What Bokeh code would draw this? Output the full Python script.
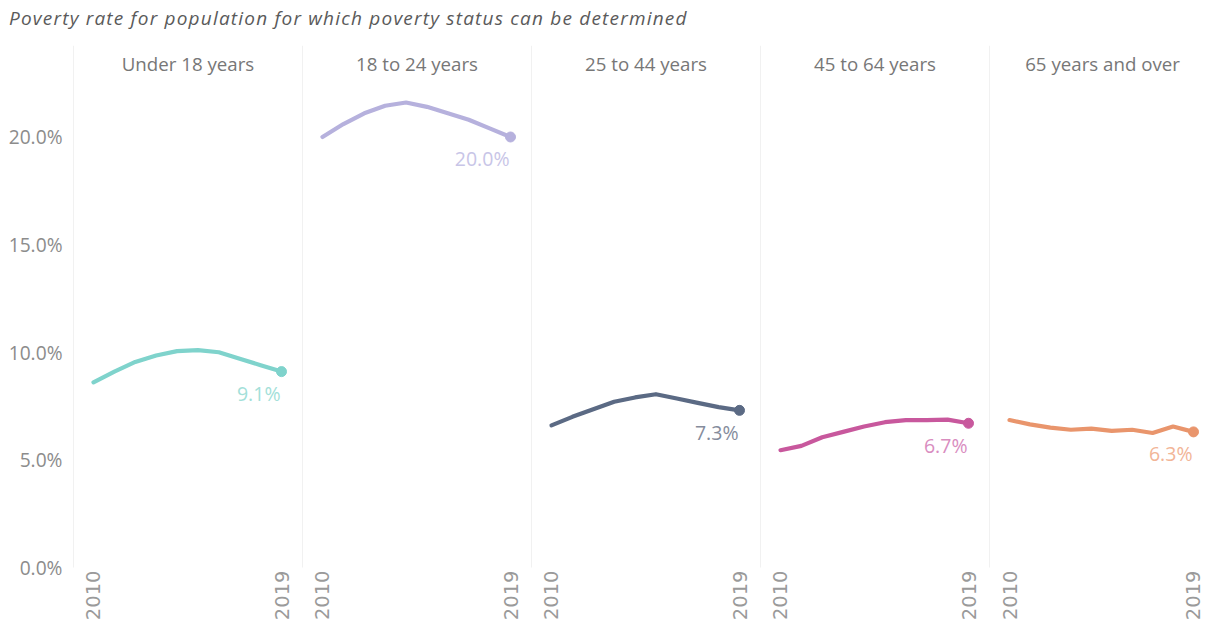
from bokeh.plotting import figure
from bokeh.models import (Range1d, FixedTicker, Label, Div, PrintfTickFormatter,
                          ColumnDataSource, Arrow)
from bokeh.layouts import row, column
from bokeh.core.properties import value
from bokeh.embed import file_html
from bokeh.resources import INLINE
import math

# ---------------- data ----------------
title_text = "Poverty rate for population for which poverty status can be determined"
years = [2010, 2011, 2012, 2013, 2014, 2015, 2016, 2017, 2018, 2019]
groups = ["Under 18 years", "18 to 24 years", "25 to 44 years", "45 to 64 years", "65 years and over"]
under_18 = [8.6, 9.1, 9.55, 9.85, 10.05, 10.1, 10.0, 9.7, 9.4, 9.1]
age_18_24 = [20.0, 20.6, 21.1, 21.45, 21.6, 21.4, 21.1, 20.8, 20.4, 20.0]
age_25_44 = [6.6, 7.0, 7.35, 7.7, 7.9, 8.05, 7.85, 7.65, 7.45, 7.3]
age_45_64 = [5.45, 5.65, 6.05, 6.3, 6.55, 6.75, 6.85, 6.85, 6.87, 6.7]
age_65_over = [6.85, 6.65, 6.5, 6.4, 6.45, 6.35, 6.4, 6.25, 6.55, 6.3]
end_labels = ["9.1%", "20.0%", "7.3%", "6.7%", "6.3%"]
y_ticks = [0, 5, 10, 15, 20]
x_ticks = [2010, 2019]

series = [under_18, age_18_24, age_25_44, age_45_64, age_65_over]
line_colors = ["#7fd3cc", "#b6b1dd", "#5b6a84", "#c8589d", "#e9956c"]
label_colors = ["#a3dfd9", "#c8c5e7", "#858c9c", "#d98dbf", "#f2b597"]

FONT = "Open Sans"
DIVIDER = "#e3e3e3"

# ---------------- layout ----------------
frame_widths = [229, 229, 229, 229, 217]
x_ranges = [(2009.043, 2020.005)] * 4 + [(2009.021, 2019.636)]
header_x = [None, None, None, None, 2014.55]
Y_TOP = 24.25

figs = []
for i, (g, vals) in enumerate(zip(groups, series)):
    first = i == 0
    p = figure(frame_width=frame_widths[i], frame_height=522,
               x_range=Range1d(*x_ranges[i]), y_range=Range1d(0, Y_TOP),
               output_backend="svg", toolbar_location=None,
               min_border_left=73 if first else 0, min_border_right=0,
               min_border_top=9, min_border_bottom=0,
               y_axis_location="left" if first else None)
    p.outline_line_color = None
    p.background_fill_color = "white"
    p.border_fill_color = "white"
    p.xgrid.visible = False
    p.ygrid.visible = False

    # x axis (years)
    xa = p.xaxis[0]
    xa.ticker = FixedTicker(ticks=x_ticks)
    xa.axis_line_color = None
    xa.major_tick_line_color = None
    xa.minor_tick_line_color = None
    xa.major_tick_out = 0
    xa.major_tick_in = 0
    xa.major_label_orientation = math.pi / 2
    xa.major_label_standoff = 3
    xa.major_label_text_font = "DejaVu Sans"
    xa.major_label_text_font_size = "19.5px"
    xa.major_label_text_color = "#9a9a9a"

    if first:
        ya = p.yaxis[0]
        ya.ticker = FixedTicker(ticks=y_ticks)
        ya.formatter = PrintfTickFormatter(format="%.1f%%")
        ya.axis_line_color = None
        ya.major_tick_line_color = None
        ya.minor_tick_line_color = None
        ya.major_tick_out = 0
        ya.major_tick_in = 0
        ya.major_label_standoff = 11
        ya.major_label_text_font = FONT
        ya.major_label_text_font_size = "19.2px"
        ya.major_label_text_color = "#8c8c8c"

    # divider on the left of each panel
    x0 = x_ranges[i][0]
    p.add_layout(Arrow(end=None, x_start=x0, y_start=Y_TOP, x_end=x0, y_end=-4,
                       line_color=DIVIDER, line_width=1))

    # header
    hx = header_x[i] if header_x[i] is not None else (x_ranges[i][0] + x_ranges[i][1]) / 2
    p.add_layout(Label(x=hx, y=23.41, text=g, text_align="center", text_baseline="middle",
                       text_font=FONT, text_font_size="18.7px", text_color="#777777"))

    src = ColumnDataSource(dict(year=years, rate=vals))
    p.line("year", "rate", source=src, line_color=line_colors[i], line_width=4.2,
           line_join="round", line_cap="round")
    end_src = ColumnDataSource(dict(year=[years[-1]], rate=[vals[-1]], lab=[end_labels[i]]))
    p.scatter("year", "rate", source=end_src, size=10, fill_color=line_colors[i],
              line_color=line_colors[i])
    p.text("year", "rate", text="lab", source=end_src, text_align="right",
           text_baseline="middle", y_offset=22, x_offset=-1,
           text_font=value(FONT), text_font_size="19.5px", text_color=label_colors[i])
    figs.append(p)

title = Div(text=title_text, width=1196, height=28, margin=(8, 0, 0, 9),
            styles={"font-family": "'Open Sans'", "font-style": "italic",
                    "font-size": "19px", "letter-spacing": "1.2px",
                    "color": "#5a5a5a", "line-height": "20px", "white-space": "nowrap"})

layout = column(title, row(*figs, spacing=0), spacing=0)

open("out.html", "w").write(file_html(layout, INLINE))
